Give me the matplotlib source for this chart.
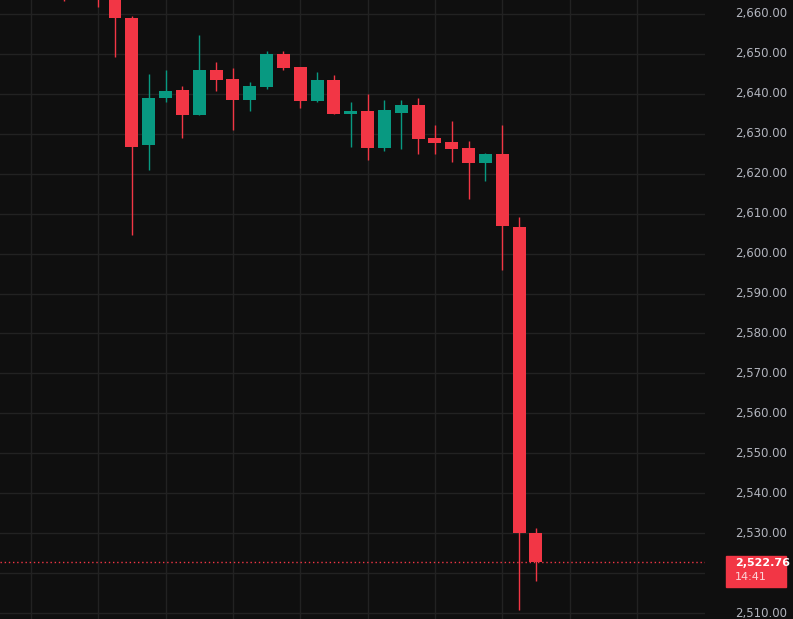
import matplotlib
matplotlib.use("Agg")
import matplotlib.pyplot as plt
from matplotlib.transforms import blended_transform_factory

opens  = [2672, 2670, 2668, 2665, 2659.0, 2627.2, 2639.0, 2641.0, 2634.7, 2646.0, 2643.7, 2638.5, 2641.7, 2650.0, 2646.7, 2638.2, 2643.5, 2635.0, 2635.7, 2626.4, 2635.2, 2637.2, 2629.0, 2628.0, 2626.4, 2622.7, 2625.0, 2606.7, 2530.0]
closes = [2668, 2669, 2666, 2659.0, 2626.7, 2639.0, 2640.7, 2634.7, 2646.0, 2643.5, 2638.5, 2642.0, 2650.0, 2646.5, 2638.2, 2643.5, 2635.0, 2635.7, 2626.4, 2636.0, 2637.2, 2628.7, 2627.7, 2626.2, 2622.7, 2625.0, 2607.0, 2530.0, 2522.76]
highs  = [2675, 2672, 2670, 2667, 2659.5, 2645.0, 2646.0, 2642.0, 2654.7, 2648.0, 2646.5, 2643.0, 2650.7, 2650.7, 2646.7, 2645.5, 2644.7, 2638.0, 2640.0, 2638.5, 2638.5, 2639.0, 2632.2, 2633.2, 2628.2, 2625.2, 2632.2, 2609.2, 2531.3]
lows   = [2663.2, 2666, 2661.7, 2649.2, 2604.7, 2621.0, 2638.0, 2629.0, 2634.7, 2640.7, 2631.0, 2635.7, 2641.2, 2646.0, 2636.5, 2638.0, 2635.0, 2626.7, 2623.4, 2625.7, 2626.2, 2625.0, 2625.0, 2623.0, 2613.7, 2618.2, 2596.0, 2510.7, 2518.0]
price_ticks = [2510, 2520, 2530, 2540, 2550, 2560, 2570, 2580, 2590, 2600, 2610, 2620, 2630, 2640, 2650, 2660]
last_price = 2522.76
countdown = "14:41"

RED, GREEN, BG = "#F23645", "#089981", "#0F0F0F"
fig = plt.figure(figsize=(7.93, 6.19), dpi=100, facecolor=BG)
ax = fig.add_axes([0, 0, 705/793, 1])
ax.set_facecolor(BG)
for s in ax.spines.values():
    s.set_visible(False)
ax.set_xlim(-3.83, 38.04)
ax.set_ylim(2508.5, 2663.5)
ax.set_xticks(range(-2, 38, 4))
ax.set_yticks(price_ticks)
ax.tick_params(length=0, labelleft=False, labelbottom=False)
ax.grid(True, color="#222222", lw=1)
ax.set_axisbelow(True)

for i, (o, c, h, l) in enumerate(zip(opens, closes, highs, lows)):
    col = GREEN if c >= o else RED
    ax.vlines(i, l, h, color=col, lw=1, zorder=2)
    ax.bar(i, max(abs(c - o), 0.4), bottom=min(o, c), width=0.77, color=col, zorder=3)

ax.axhline(last_price, color=RED, lw=1, ls=(0, (1, 2)), zorder=1)

tr = blended_transform_factory(fig.transFigure, ax.transData)
for p in price_ticks:
    if abs(p - last_price) < 5:
        continue
    fig.text(735/793, p, f"{p:,.2f}", transform=tr, color="#B2B5BE", fontsize=8.5, va="center", ha="left")

ytop = 1 - 556/619
ybot = 1 - 587/619
fig.patches.append(plt.Rectangle((726/793, ybot), 60/793, ytop - ybot, transform=fig.transFigure, color=RED))
fig.text(735/793, 1 - 563/619, f"{last_price:,.2f}", color="white", fontsize=8, va="center", ha="left", fontweight="bold")
fig.text(735/793, 1 - 577/619, countdown, color="#FBD5D8", fontsize=8, va="center", ha="left")

fig.savefig("out.png", dpi=100, facecolor=BG)
